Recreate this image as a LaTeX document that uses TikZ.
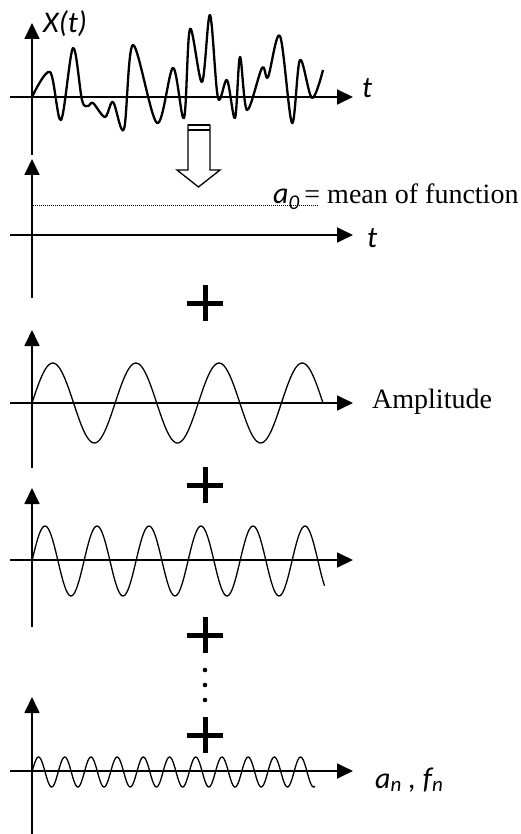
\documentclass[tikz,border=0pt]{standalone}
\usepackage{fontspec}
\setmainfont{Liberation Serif}
\newfontfamily\sigfont{Carlito}
\usetikzlibrary{arrows.meta}

\begin{document}
\begin{tikzpicture}[x=1pt,y=-1pt,>={Triangle[length=16pt,width=15pt]},
  axis/.style={line width=1.8pt},
  wave/.style={line width=1.3pt,line join=round},
  plus/.style={line width=5pt},
  lab/.style={anchor=base west,inner sep=0pt,font=\fontsize{28}{31}\selectfont},
  var/.style={anchor=base west,inner sep=0pt,font=\fontsize{30}{33}\selectfont\sigfont\itshape}]
\useasboundingbox (0,0) rectangle (520,834);

% axes: name / t-axis / arrow top / bottom
\foreach \n/\y/\top/\bot in {a/97/23/155,b/235/159/298,c/403/330/468,d/560/488/627,e/771/697/834}{
  \coordinate (\n l) at (10,\y); \coordinate (\n r) at (353,\y);
  \coordinate (\n t) at (32,\top); \coordinate (\n b) at (32,\bot);
  \draw[axis,->] (\n l)--(\n r);
  \draw[axis,->] (\n b)--(\n t);
}

% signal
\draw[wave,line width=2.3pt] plot[smooth,tension=0.55] coordinates {(32,97) (50,72) (61,120) (73,48) (82,100) (88,106) (93,103) (105,117) (113,102) (124,129) (133,45) (157,123) (173,68) (184,118) (190,29) (202,82) (210,15) (218,98) (227,80) (235,118) (240,57) (247,110) (262,68) (268,77) (280,36) (292,123) (300,60) (312,98) (323,70)};

% hollow arrow
\draw[line width=1.3pt,line join=miter] (188,125)--(210,125)--(210,170)--(220,170)--(198.5,187)--(177,170)--(188,170)--cycle;
\draw[line width=2.5pt] (188,125)--(210,125);
\draw[line width=1.3pt] (188,130)--(210,130);

% mean
\draw[line width=0.8pt,dash pattern=on 0.8pt off 1.2pt] (33,205)--(318,205);

% harmonics
\draw[wave] plot[domain=0:291,samples=160] ({32+\x},{403-40*sin(\x/83.14*360)});
\draw[wave] plot[domain=0:292.5,samples=200] ({32+\x},{561-35*sin(\x/52*360)});
\draw[wave] plot[domain=0:283,samples=300] ({32+\x},{772-15*sin(\x/26.2*360)});

% plus signs and dots
\foreach \y in {303,485,635,735}{\draw[plus] (187,\y)--(223,\y) (205,\y-18)--(205,\y+18);}
\foreach \y in {670,685,700}{\fill (205,\y) circle (2.3);}

\node[var] (xt) at (43,33) {X(t)};
\node[var] (t1) at (362,98) {t};
\node[var] (t2) at (367,247) {t};
\node[lab] (mean) at (273,204) {{\sigfont\itshape\fontsize{30}{33}\selectfont a\textsubscript{0}}\,= mean of function};
\node[lab] (amp) at (372,408) {Amplitude};
\node[var] (anfn) at (375,788) {a\textsubscript{n} , f\textsubscript{n}};
\end{tikzpicture}
\end{document}
